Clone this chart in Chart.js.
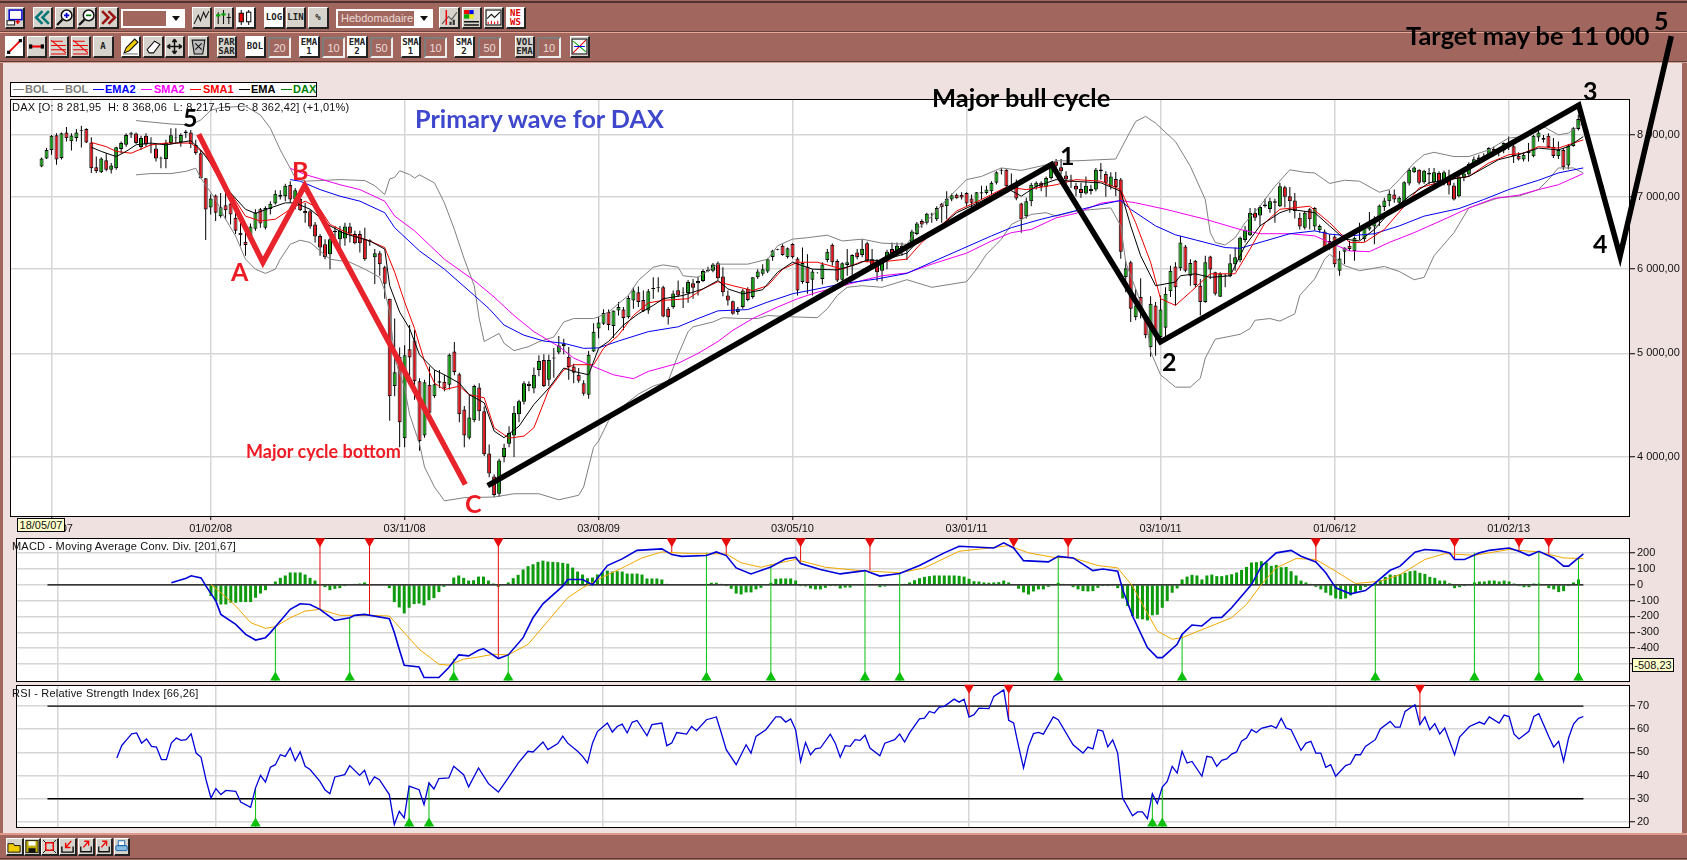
<!DOCTYPE html>
<html><head><meta charset="utf-8"><title>DAX</title>
<script src="https://cdn.jsdelivr.net/npm/chart.js@4/dist/chart.umd.min.js"></script>
<style>
html,body{margin:0;padding:0;width:1687px;height:860px;overflow:hidden;background:#a1675f;font-family:"Liberation Sans",Arial,sans-serif}
#frame{position:absolute;left:3px;top:63px;width:1679px;height:770px;background:#f0e1e1}
.sep{position:absolute;left:0;width:1687px;height:1px}
canvas{position:absolute}
.b{position:absolute;box-sizing:border-box;background:#d6d3cc;border:1px solid #fff;border-right:2px solid #222;border-bottom:2px solid #222;font:bold 9px "DejaVu Sans Mono",monospace;color:#222;text-align:center;line-height:9px;display:flex;align-items:center;justify-content:center;white-space:pre}
.b.w{background:#fff}
.b.n{color:#e00000}
.b svg{display:block}
.i{position:absolute;box-sizing:border-box;height:21px;background:#a1675f;border:2px solid #7d7d7d;border-right-color:#eee;border-bottom-color:#eee;color:#eadcd8;font:11px "Liberation Sans";padding-top:3px;text-align:center}
.d{position:absolute;box-sizing:border-box;background:#fff;height:19px;padding:2px}
.d span{display:block;height:15px;background:#a1675f;color:#eadcd8;font:11px "Liberation Sans";padding-left:3px;line-height:15px;width:calc(100% - 20px);overflow:hidden;white-space:nowrap}
.d:after{content:"";position:absolute;right:5px;top:7px;border:4px solid transparent;border-top:5px solid #111}
.t{position:absolute;white-space:nowrap;font-family:Lato,"Open Sans",sans-serif;font-weight:700;line-height:1;z-index:6}
#legend{position:absolute;left:10px;top:82px;width:307px;height:15px;box-sizing:border-box;background:#fff;border:1px solid #000;font:bold 11px "Liberation Sans";z-index:2}
#legend span{position:absolute;top:0;line-height:13px}
#legend i{position:absolute;top:6px;width:11px;height:1px}
.lab{position:absolute;font:11px "Liberation Sans";color:#111;white-space:nowrap;z-index:5;letter-spacing:.2px}
.tip{position:absolute;box-sizing:border-box;background:#ffffcc;border:1px solid #000;font:11px "Liberation Sans";color:#111;text-align:center;z-index:6}
</style></head><body>
<div class="sep" style="top:1px;height:2px;background:#4e3431"></div>
<div class="sep" style="top:32px;background:#e8a898"></div><div class="sep" style="top:31px;background:#6b4440"></div>
<div class="sep" style="top:61px;background:#5c3c38"></div><div class="sep" style="top:62px;background:#d8a090"></div>
<div class="sep" style="top:833px;height:2px;background:#e09a8c"></div><div class="sep" style="top:858px;background:#5c3c38"></div>
<div id="frame"></div>
<div id="tools"></div>
<div id="legend"></div>
<canvas id="macd" width="1677" height="164" style="left:10px;top:528px"></canvas>
<canvas id="rsi" width="1677" height="163" style="left:10px;top:675px"></canvas>
<canvas id="main" width="1687" height="860" style="left:0;top:0;z-index:4"></canvas>
<div class="lab" style="left:12px;top:101px">DAX [O: 8 281,95&nbsp; H: 8 368,06&nbsp; L: 8 217,15&nbsp; C: 8 362,42] (+1,01%)</div>
<div class="lab" style="left:12px;top:540px">MACD - Moving Average Conv. Div. [201,67]</div>
<div class="lab" style="left:12px;top:687px">RSI - Relative Strength Index [66,26]</div>
<div class="tip" style="left:17px;top:518px;width:48px;height:14px;line-height:12px">18/05/07</div>
<div class="tip" style="left:1632px;top:658px;width:42px;height:14px;line-height:12px">-508,23</div>
<div class="t" style="left:415px;top:106px;font-size:25.2px;color:#3f48cc">Primary wave for DAX</div>
<div class="t" style="left:932px;top:85px;font-size:25.5px;color:#000">Major bull cycle</div>
<div class="t" style="left:1406px;top:23px;font-size:25.4px;color:#000">Target may be 11 000</div>
<div class="t" style="left:246px;top:442px;font-size:18px;color:#ed1c24">Major cycle bottom</div>
<div class="t" style="left:183px;top:105px;font-size:25px;color:#000">5</div>
<div class="t" style="left:231px;top:259px;font-size:25px;color:#ed1c24">A</div>
<div class="t" style="left:292px;top:158px;font-size:25px;color:#ed1c24">B</div>
<div class="t" style="left:465px;top:491px;font-size:25px;color:#ed1c24">C</div>
<div class="t" style="left:1060px;top:143px;font-size:25px;color:#000">1</div>
<div class="t" style="left:1162px;top:349px;font-size:25px;color:#000">2</div>
<div class="t" style="left:1583px;top:78px;font-size:25px;color:#000">3</div>
<div class="t" style="left:1593px;top:231px;font-size:25px;color:#000">4</div>
<div class="t" style="left:1654px;top:8px;font-size:25px;color:#000">5</div>
<script>
// ---------- candle data (weekly DAX) ----------
const opens=[7480,7610,7750,8000,7615,8045,7895,7950,8075,8105,
7875,7465,7385,7580,7425,7450,7765,7835,8010,8030,
7800,7990,7830,7775,7610,7600,7865,7945,7880,8035,
8045,7835,7695,7290,6845,7025,6720,6880,6905,6695,
6485,6360,6415,6540,6820,6555,6825,6905,7035,7015,
7185,6965,6975,6795,6790,6600,6440,6325,6190,6490,
6395,6405,6570,6465,6465,6395,6380,6150,6205,6020,
5625,4660,4965,4165,5045,5140,4710,4190,4675,4560,
4695,4705,4675,5020,4780,4430,4170,4330,4645,4415,
4030,3835,3695,4000,4115,4190,4385,4505,4685,4635,
4825,4930,4725,4945,5010,5080,4965,4860,4775,4690,
4575,5020,5275,5330,5465,5305,5485,5495,5405,5605,
5705,5610,5485,5745,5755,5765,5505,5525,5730,5695,
5695,5815,5815,5845,5970,5975,6070,5900,5665,5595,
5465,5525,5745,5645,5890,5935,5965,6155,6260,6305,
6150,6330,6135,5830,6030,5860,5945,5870,6115,6320,
6100,5860,6050,6040,6215,6180,6340,6125,6050,5975,
6125,6260,6235,6305,6245,6350,6465,6650,6625,6745,
6675,6900,6865,6965,7035,7035,7065,6980,6915,7055,
7065,7090,7220,7410,7425,7190,7155,6905,6720,6940,
7160,7220,7160,7295,7560,7465,7335,7270,7175,7125,
7055,7095,7115,7400,7360,7165,7280,7270,5890,6085,
5405,5645,5410,5070,5545,5180,5285,5715,6030,6005,
6295,5910,6105,5785,5585,6160,5955,5650,5905,5905,
6060,6110,6385,6450,6770,6730,6865,6825,6915,6865,
7150,7015,6950,6695,6555,6820,6570,6520,6500,6370,
6430,5975,6225,6305,6235,6410,6395,6530,6570,6675,
6855,6940,7040,6915,6925,7210,7385,7425,7230,7350,
7230,7375,7220,7295,7180,7015,7295,7350,7505,7590,
7620,7655,7765,7725,7740,7810,7810,7655,7590,7735,
7645,7960,7950,7990,7805,7645,7750,7495,7815,8105];
const highs=[7625,7780,8005,8035,8045,8140,8035,8105,8165,8120,
7965,7640,7630,7695,7535,7805,7890,8035,8060,8045,
7990,8035,7965,7865,7640,7920,8120,8120,8035,8090,
8090,7920,7750,7290,7040,7040,7065,7065,7015,6770,
6625,6625,6615,6820,6840,6865,6940,7105,7105,7205,
7245,7140,7065,6915,6820,6635,6465,6395,6415,6580,
6580,6625,6625,6510,6510,6555,6395,6260,6235,6040,
5625,5390,5065,5090,5315,5260,4740,4725,4860,4825,
4825,4775,5000,5125,4795,4465,4575,4675,4690,4460,
4110,3855,3985,4115,4275,4465,4525,4710,4710,4850,
4980,4990,4985,5060,5190,5160,5070,4890,4845,4720,
5025,5335,5410,5500,5495,5485,5585,5525,5665,5765,
5775,5725,5745,5890,5890,5785,5525,5725,5850,5765,
5855,5870,5900,5995,6025,6075,6095,6020,5725,5605,
5525,5745,5765,5890,5995,6060,6135,6250,6265,6325,
6280,6340,6150,6280,6190,5995,5955,6085,6260,6335,
6125,6085,6260,6190,6260,6395,6360,6260,6125,6125,
6250,6350,6350,6350,6305,6525,6635,6675,6770,6770,
6865,6915,7090,7055,7055,7075,7075,7040,7080,7175,
7175,7245,7400,7450,7435,7365,7270,6915,6990,7220,
7245,7245,7320,7505,7600,7600,7400,7345,7220,7220,
7320,7190,7455,7535,7400,7385,7390,7295,6105,6105,
5745,5880,5430,5655,5585,5665,5765,6040,6085,6440,
6315,6125,6115,5870,6170,6170,5960,5955,5935,6190,
6280,6430,6580,6840,6840,6875,6975,6990,6975,7220,
7175,7155,7065,6770,6795,6840,6855,6600,6530,6465,
6450,6235,6280,6370,6430,6625,6600,6780,6720,6890,
6990,7105,7115,7015,7245,7455,7480,7435,7425,7455,
7455,7400,7415,7425,7220,7345,7400,7545,7640,7670,
7695,7795,7805,7780,7875,7975,7890,7710,7710,7865,
8005,8090,8005,8035,7950,7890,7780,7850,8140,8360];
const lows=[7465,7600,7670,7505,7590,7890,7740,7890,7790,7865,
7375,7375,7375,7400,7365,7425,7695,7805,7950,7850,
7750,7805,7695,7560,7450,7450,7835,7865,7805,7950,
7780,7670,7290,6385,6745,6650,6695,6675,6600,6465,
6305,6170,6395,6510,6555,6530,6745,6890,6965,6940,
6915,6820,6795,6625,6540,6350,6170,6125,5995,6305,
6280,6305,6350,6325,6215,6105,6305,5805,5910,5625,
4325,4560,4085,4085,4740,4525,4055,4170,4385,4545,
4640,4610,4625,4770,4310,4085,4155,4310,4325,4010,
3830,3670,3670,3955,4085,4000,4310,4480,4610,4590,
4760,4650,4660,4745,4990,4990,4725,4690,4695,4565,
4535,5015,5165,5315,5255,5170,5425,5255,5390,5505,
5525,5465,5445,5625,5705,5405,5320,5505,5645,5515,
5575,5625,5665,5830,5955,5955,5860,5655,5545,5435,
5435,5505,5595,5625,5870,5910,5945,6105,6245,6170,
6135,6135,5665,5810,5685,5665,5940,5800,6085,6040,
5830,5835,5910,5910,6125,6150,6085,5995,5840,5840,
5995,6150,6170,6170,6115,6305,6450,6555,6600,6625,
6650,6625,6675,6940,6975,6965,6865,6840,6865,6965,
7040,7040,7195,7350,7115,7115,6955,6485,6685,6865,
7115,7090,7005,7270,7455,7350,7165,7140,7015,6990,
7040,7040,7090,7270,7005,7115,7015,6130,5705,5350,
5370,5390,5165,4965,4975,5130,5180,5645,5545,5975,
5955,5785,5765,5425,5575,5870,5665,5645,5765,5890,
5975,6085,6350,6440,6650,6580,6845,6770,6625,6855,
6845,6770,6685,6530,6530,6530,6510,6485,6250,6250,
6020,5910,6060,6235,6105,6385,6360,6510,6325,6580,
6795,6865,6915,6865,6905,7180,7375,7195,7205,7195,
7180,7205,7180,7040,6950,7000,7245,7320,7480,7535,
7600,7630,7645,7645,7695,7750,7535,7575,7560,7560,
7630,7890,7875,7780,7615,7600,7425,7435,7805,8080];
const closes=[7610,7750,7990,7590,8035,7945,7995,8045,8090,7875,
7450,7405,7610,7425,7495,7795,7865,8005,8035,7865,
7950,7840,7840,7610,7620,7865,8000,7960,8005,8065,
7850,7695,7290,6818,6980,6770,6850,6805,6745,6510,
6450,6315,6570,6770,6615,6840,6900,7050,7005,7175,
6965,7105,6805,6760,6570,6430,6280,6150,6395,6510,
6510,6570,6475,6340,6340,6125,6360,6205,6060,5810,
4560,4800,4310,4980,4955,4710,4140,4700,4400,4680,
4710,4635,4985,4805,4385,4190,4355,4660,4415,4025,
3860,3685,3970,4080,4215,4400,4510,4690,4660,4775,
4920,4660,4930,4955,5085,5105,4855,4795,4715,4585,
4985,5240,5345,5455,5315,5485,5525,5395,5635,5725,
5585,5475,5715,5755,5765,5415,5405,5690,5665,5700,
5830,5760,5845,5970,5985,6055,5880,5705,5605,5445,
5505,5725,5610,5890,5965,5995,6125,6240,6250,6180,
6270,6150,5725,6075,5820,5965,5950,6055,6225,6085,
5850,6070,6085,6180,6150,6265,6105,6040,5955,6085,
6225,6205,6305,6250,6255,6500,6615,6600,6755,6755,
6840,6850,6975,7030,6985,6995,6905,6915,7075,7075,
7115,7220,7385,7425,7165,7155,6980,6675,6940,7190,
7220,7160,7295,7480,7490,7400,7270,7265,7115,7065,
7175,7125,7425,7430,7220,7320,7155,6225,6005,5505,
5545,5505,5200,5565,5240,5495,5685,5975,5765,6350,
5975,6075,5795,5585,6085,5990,5685,5935,5915,6070,
6150,6415,6520,6770,6695,6855,6890,6940,6940,7165,
7005,6940,6795,6570,6770,6675,6840,6580,6280,6280,
6060,6135,6280,6260,6415,6415,6555,6570,6675,6875,
6950,7050,6965,6990,7230,7425,7460,7220,7410,7375,
7385,7245,7385,7180,6965,7320,7365,7520,7595,7625,
7645,7780,7700,7750,7865,7865,7645,7590,7670,7700,
7990,8045,7920,7795,7650,7750,7465,7815,8120,8285];

// ---------- indicator lines on the price panel: [week, value] ----------
const bolUpper=[[19,8255],[26,8195],[30,8180],[32,8265],[34,8440],[36,8490],[41,8515],[44,8355],[46,8120],[48,7750],[50,7450],[51,7295],[53,7245],[56,7255],[60,7270],[65,7255],[67,7175],[69,7040],[70,7280],[71,7305],[72,7410],[74,7350],[75,7295],[76,7345],[79,7218],[81,6915],[83,6530],[85,6125],[87,5785],[88,5390],[89,5130],[92,5220],[93,5110],[95,5030],[98,5075],[100,5128],[103,5180],[105,5350],[107,5390],[111,5390],[112,5410],[114,5465],[116,5565],[118,5665],[120,5850],[123,6020],[125,6050],[128,6020],[129,5910],[132,5890],[136,6060],[142,6060],[146,6125],[148,6305],[151,6395],[154,6415],[158,6450],[161,6370],[165,6395],[169,6340],[174,6325],[176,6530],[179,6720],[182,6965],[186,7270],[189,7320],[193,7455],[197,7415],[202,7505],[204,7570],[208,7570],[216,7600],[218,7920],[220,8240],[222,8330],[224,8210],[228,7890],[231,7480],[234,6965],[235,6485],[236,6350],[238,6315],[240,6415],[242,6625],[245,6865],[248,7165],[251,7425],[254,7385],[256,7375],[259,7210],[262,7260],[265,7245],[269,7075],[271,7115],[273,7270],[276,7535],[278,7670],[280,7710],[284,7640],[287,7640],[291,7750],[295,7950],[298,7975],[302,8150],[305,8005],[307,8035],[310,8210]];
const bolLower=[[19,7345],[22,7365],[26,7365],[29,7400],[31,7450],[32,7295],[35,6965],[37,6675],[39,6440],[41,6125],[43,5995],[45,5940],[47,5995],[48,6125],[50,6325],[52,6380],[54,6350],[56,6235],[58,6125],[62,6085],[65,5995],[68,5890],[69,5725],[70,5465],[71,4950],[73,4640],[74,4385],[76,4115],[77,3915],[79,3750],[81,3640],[85,3665],[91,3670],[95,3696],[100,3696],[104,3648],[108,3684],[109,3750],[110,3915],[111,4085],[112,4140],[114,4325],[116,4430],[120,4580],[123,4660],[126,4710],[128,4985],[130,5240],[131,5295],[135,5350],[137,5400],[141,5390],[144,5390],[146,5425],[151,5410],[156,5400],[158,5505],[160,5665],[162,5765],[165,5785],[169,5765],[174,5860],[179,5765],[186,5835],[188,5995],[190,6190],[193,6395],[195,6600],[199,6745],[202,6770],[204,6720],[208,6795],[215,6840],[217,6580],[218,6085],[220,5745],[222,5425],[223,5020],[225,4775],[228,4650],[231,4650],[233,4740],[234,4950],[236,5155],[241,5210],[243,5275],[244,5370],[247,5390],[249,5360],[252,5445],[253,5665],[256,5870],[258,6125],[259,6190],[262,6040],[265,5975],[270,6030],[273,5965],[276,5860],[278,5890],[280,6170],[284,6485],[287,6840],[293,6990],[297,7015],[301,7115],[303,7270],[305,7455],[308,7455],[310,7375]];
const sma2=[[50,7450],[53,7350],[60,7190],[64,7115],[69,6940],[71,6720],[75,6510],[81,6125],[87,5850],[91,5645],[95,5425],[99,5240],[104,5075],[107,4950],[111,4860],[115,4775],[119,4735],[122,4810],[128,4895],[132,5000],[136,5130],[139,5255],[143,5390],[148,5525],[152,5625],[156,5705],[160,5765],[165,5850],[169,5910],[174,5945],[179,6060],[186,6205],[191,6370],[195,6485],[199,6530],[204,6695],[208,6760],[213,6910],[217,6950],[220,6915],[226,6820],[234,6675],[241,6530],[245,6470],[251,6470],[256,6440],[259,6350],[263,6235],[267,6225],[271,6350],[276,6485],[283,6705],[287,6840],[292,6980],[297,7030],[301,7115],[305,7190],[310,7365]];
const ema2=[[50,7270],[52,7245],[56,7115],[60,7015],[64,6940],[69,6770],[71,6555],[76,6235],[81,5995],[87,5665],[90,5505],[93,5315],[97,5200],[101,5135],[105,5110],[109,5055],[112,5060],[116,5135],[122,5240],[128,5295],[132,5390],[136,5480],[142,5495],[146,5585],[151,5685],[156,5745],[161,5810],[168,5870],[174,5940],[179,6085],[185,6260],[191,6440],[195,6555],[201,6675],[205,6745],[213,6890],[217,6950],[219,6820],[224,6580],[228,6455],[232,6385],[238,6280],[241,6270],[245,6350],[251,6470],[256,6510],[259,6465],[263,6440],[268,6470],[273,6580],[278,6720],[285,6830],[290,6965],[295,7115],[301,7260],[305,7375],[310,7455]];
const ema1=[[10,7795],[12,7725],[15,7640],[17,7725],[19,7835],[22,7865],[25,7835],[30,7905],[32,7750],[35,7425],[38,7065],[41,6820],[43,6760],[46,6840],[49,6915],[51,6915],[54,6820],[58,6580],[61,6470],[66,6370],[69,6260],[70,5785],[72,5465],[74,5275],[76,4985],[79,4825],[81,4775],[84,4690],[86,4575],[89,4495],[91,4230],[93,4170],[96,4275],[99,4480],[102,4640],[105,4845],[107,4810],[110,4775],[112,5055],[114,5130],[117,5315],[120,5445],[123,5545],[125,5625],[129,5665],[133,5745],[136,5850],[138,5745],[141,5685],[145,5735],[148,5955],[151,6085],[155,5995],[160,5985],[164,6060],[166,6115],[169,6105],[174,6205],[176,6350],[180,6530],[184,6770],[189,6940],[194,7140],[197,7015],[200,7165],[204,7270],[207,7245],[213,7220],[217,7090],[219,6580],[221,6170],[224,5785],[228,5830],[229,5910],[232,5935],[235,5890],[239,5910],[242,6305],[245,6580],[249,6770],[251,6820],[256,6770],[259,6580],[262,6395],[265,6370],[268,6530],[271,6770],[275,7015],[279,7220],[283,7270],[287,7320],[293,7590],[297,7670],[301,7780],[305,7750],[307,7805],[310,7975]];
const sma1=[[10,7875],[13,7805],[15,7725],[18,7695],[22,7835],[25,7865],[30,7865],[33,7670],[35,7375],[38,7065],[41,6720],[44,6650],[47,6675],[50,6820],[53,6940],[56,6820],[58,6600],[62,6465],[66,6370],[69,6280],[71,5955],[73,5585],[75,5275],[77,4915],[79,4690],[81,4625],[84,4660],[86,4575],[89,4545],[91,4260],[94,4165],[97,4185],[99,4260],[102,4625],[105,4825],[107,4880],[111,4880],[113,5055],[116,5200],[119,5425],[122,5575],[125,5605],[130,5625],[133,5745],[136,5835],[139,5785],[143,5725],[146,5785],[149,5995],[152,6085],[156,6085],[161,5995],[165,6095],[168,6085],[174,6125],[177,6350],[180,6530],[184,6795],[189,6965],[194,7155],[198,7115],[204,7190],[208,7270],[213,7245],[217,7115],[220,6625],[223,6085],[225,5625],[228,5545],[231,5705],[235,5935],[240,5935],[243,6260],[246,6625],[249,6820],[255,6865],[259,6625],[263,6350],[266,6350],[270,6530],[274,6865],[277,7140],[283,7270],[287,7320],[291,7535],[295,7670],[298,7695],[301,7805],[305,7780],[310,7920]];

// ---------- hand drawn wave lines: [week, value] ----------
const waveRed=[[31.6,8017],[44.5,6083],[52.9,7177],[85.2,3770]];
const waveBlack=[[89.7,3762],[203.1,7510],[225,5127],[309.1,8535],[317.4,6166],[327.7,9900]];

// ---------- axes ----------
const tickWeeks=[2,34,73,112,151,186,225,260,295];
const tickDates=['18/05/07','01/02/08','03/11/08','03/08/09','03/05/10','03/01/11','03/10/11','01/06/12','01/02/13'];
const priceTicks=[4000,5000,6000,7000,8000];
const priceTickLabels=['4 000,00','5 000,00','6 000,00','7 000,00','8 000,00'];
const macdTicks=[-500,-400,-300,-200,-100,0,100,200];
const rsiTicks=[20,30,40,50,60,70];

// ---------- MACD ----------
const macdLine=[[25,13],[28,42],[29,57],[31,44],[32,-8],[34,-103],[35,-187],[38,-250],[40,-313],[42,-349],[44,-334],[45,-302],[47,-229],[49,-155],[51,-120],[53,-124],[55,-155],[58,-225],[61,-208],[62,-193],[64,-187],[69,-214],[70,-302],[71,-407],[72,-508],[75,-519],[76,-586],[79,-586],[81,-523],[83,-443],[85,-449],[87,-414],[88,-403],[91,-466],[93,-443],[96,-334],[98,-208],[100,-120],[104,-8],[105,34],[108,34],[110,0],[113,122],[116,164],[119,218],[124,227],[126,191],[128,180],[133,185],[135,208],[137,185],[139,107],[142,69],[146,113],[149,164],[151,174],[152,134],[156,97],[160,69],[165,90],[168,55],[172,71],[176,122],[181,202],[184,244],[191,233],[193,265],[195,233],[197,153],[202,145],[204,180],[207,170],[211,90],[213,100],[216,86],[217,-29],[219,-197],[222,-397],[224,-460],[225,-460],[228,-376],[229,-313],[231,-254],[233,-260],[235,-208],[237,-206],[239,-145],[243,2],[245,118],[248,202],[251,218],[253,181],[256,145],[258,76],[260,-19],[263,-57],[266,-36],[268,13],[271,92],[273,118],[276,206],[278,223],[281,216],[283,202],[284,160],[286,160],[289,202],[291,218],[295,233],[297,212],[299,185],[301,212],[304,170],[306,118],[307,118],[309,170],[310,195]];
const macdSignal=[[33,2],[35,-50],[38,-134],[41,-239],[44,-275],[46,-265],[49,-208],[52,-166],[55,-155],[59,-193],[65,-193],[69,-197],[72,-302],[75,-407],[79,-502],[81,-508],[84,-470],[87,-456],[90,-439],[93,-443],[97,-376],[101,-229],[105,-82],[108,-19],[112,48],[116,107],[120,170],[124,208],[130,197],[137,195],[140,139],[144,111],[147,134],[151,160],[157,111],[164,90],[172,76],[177,107],[184,212],[189,229],[194,248],[198,202],[203,174],[207,170],[212,122],[216,107],[219,-8],[221,-124],[224,-292],[227,-344],[229,-334],[234,-271],[239,-208],[242,-124],[245,2],[248,107],[252,166],[256,160],[260,86],[264,8],[269,23],[273,65],[278,160],[282,197],[288,187],[295,223],[301,208],[306,170],[310,166]];
const histFirstWeek=33;
const macdHist=[-71,-103,-124,-124,-113,-113,-109,-109,-109,-82,-55,-34,
0,21,44,59,78,78,78,65,44,27,
0,-15,-34,-25,-21,-8,0,6,8,15,0,0,0,0,
-21,-109,-143,-181,-145,-122,-118,-130,-97,-84,-46,-13,
0,46,59,44,27,29,52,52,27,8,-13,0,
15,42,63,97,118,130,145,153,147,145,143,139,134,
109,84,65,42,46,65,80,90,84,86,84,71,71,71,65,
40,40,40,34,6,
0,0,0,0,0,0,0,
6,13,13,6,
-8,-25,-55,-61,-48,-48,-29,-19,
0,
13,38,40,40,40,27,
-8,-10,-23,-29,-29,-19,-8,-8,-23,-17,-17,
0,0,6,0,0,-15,-10,0,0,
6,6,15,29,42,50,55,59,59,59,59,59,57,52,38,23,21,15,13,15,17,27,15,0,
-25,-48,-61,-42,-29,-29,-13,
0,13,6,0,
-15,-29,-40,-42,-40,-19,-8,-8,-6,-21,
-86,-134,-197,-214,-218,-225,-193,-189,-145,
-103,-50,-23,
34,52,63,59,34,59,65,55,55,61,67,78,94,113,141,143,149,141,120,126,111,113,86,59,27,15,6,
-13,-29,-50,-67,-86,-90,-86,-67,-48,-34,-13,
0,
13,29,50,65,61,69,76,86,90,76,69,50,44,27,27,10,
-21,-15,-8,
0,
15,21,21,27,27,21,27,21,8,
-8,-15,-15,
8,8,0,
-21,-29,-46,-40,-8,
15,34];
const macdSellWeeks=[55,65,91,126,137,152,166,195,206,256,284,297,303];
const macdSellValues=[-155,-193,-460,197,187,139,90,244,174,145,160,208,195];
const macdBuyWeeks=[46,61,82,93,133,146,165,172,204,229,268,288,301,309];
const macdBuyValues=[-260,-204,-466,-435,202,128,90,80,187,-313,8,202,212,176];
const macdZero=[[0,0],[310,0]];

// ---------- RSI ----------
const rsiLine=[[14,47.6],[15,53],[16,55.5],[17,58],[18,58.4],[19,54],[20,55.8],[21,52.6],[22,52.3],[23,46.9],[24,46.9],[25,54],[26,56.2],[27,55.2],[28,55.5],[29,58],[30,49.7],[31,47.9],[32,38.2],[33,30.3],[34,34.4],[35,31.8],[36,33.6],[38,33.2],[39,28.6],[41,26.3],[42,34.7],[43,40.1],[44,37.2],[45,43.6],[46,44.7],[47,49],[48,48.3],[49,51.9],[50,46.4],[51,50.2],[52,44],[53,42.6],[55,37.5],[56,33.9],[57,32.2],[58,39.4],[60,40.4],[61,44.3],[63,40.1],[64,42.3],[65,36.1],[66,39.4],[67,38.2],[69,31.8],[70,18.9],[71,24.6],[72,21.7],[73,35.4],[75,33.9],[76,27.5],[77,36.8],[78,34.2],[79,38.7],[81,39],[82,44],[84,40.4],[85,35.1],[87,43.3],[89,36.5],[91,32.9],[93,39],[95,45.4],[97,50.5],[98,50.2],[100,54.5],[101,51.2],[103,53.8],[104,57],[105,54],[107,50.5],[108,48.3],[109,45.4],[110,54],[111,59],[113,62.7],[114,58.8],[115,61.2],[116,62.2],[117,58.4],[118,63],[119,63.8],[121,57.2],[122,62],[124,62.7],[125,52.9],[126,54],[127,58.6],[129,57.9],[130,61.2],[131,59.4],[133,64.1],[135,65.3],[136,58.4],[137,51.2],[139,44.7],[141,53.3],[142,49.7],[143,56.9],[145,59.8],[147,65.3],[148,65.3],[149,63.1],[150,64.4],[151,59.8],[152,46.1],[153,54.3],[154,49],[155,51.5],[156,51.9],[158,57.9],[159,54],[160,47.9],[161,52.9],[162,52.6],[163,55.5],[164,55.2],[165,57.4],[166,51.9],[168,48.6],[169,54],[171,55.5],[172,57.9],[173,54.5],[174,58.4],[176,64.5],[177,64.8],[178,67.7],[179,67],[180,69.6],[181,69.9],[183,73],[184,71.7],[185,73],[186,65.3],[187,66.3],[188,69.1],[190,68.9],[191,74.2],[193,77],[194,63.8],[195,62.7],[196,52.6],[197,43.3],[198,52.6],[199,58.1],[200,58.6],[201,57.9],[203,65.3],[204,64.1],[207,53.3],[209,49.7],[210,52.3],[211,51.5],[212,59.8],[213,59.2],[214,52.4],[215,55.4],[216,49.7],[217,30.3],[219,22.6],[220,24.3],[221,24.3],[222,21.4],[223,32.2],[224,27.9],[225,35],[226,37.5],[227,44],[228,41.1],[229,50.5],[230,45.4],[231,46.1],[233,39.7],[234,48.3],[235,47.9],[236,44],[237,46.6],[238,47.2],[239,49.3],[240,50.2],[241,54.8],[242,56.2],[243,59.8],[244,58.6],[245,60.4],[247,61.5],[248,60.5],[249,64.7],[250,60.5],[251,59.8],[253,50.9],[254,54],[255,54.8],[256,49.7],[257,49.7],[258,43.6],[259,44.7],[260,39.7],[262,44.3],[263,45.1],[264,49],[265,49],[266,52.6],[268,55.5],[269,60.1],[271,63.4],[272,60.9],[273,60.9],[274,67.7],[276,70.6],[277,62],[278,65.3],[279,59.8],[280,62.4],[281,57.9],[282,60.5],[284,49],[285,56.6],[287,61.2],[289,63.1],[290,62.2],[291,65.3],[293,62.7],[294,66.1],[295,65.5],[296,57.9],[297,55.8],[299,59.1],[300,65.5],[301,66.7],[303,56.9],[304,52.3],[305,54.8],[306,46.1],[307,56.2],[308,62.2],[309,64.7],[310,65.5]];
const rsiBuyWeeks=[42,73,77,223,225];
const rsiBuyValues=[34.7,35.4,37.1,32.2,34.7];
const rsiSellWeeks=[186,194,277];
const rsiSellValues=[65.5,63.8,62];
const rsiHigh=[[0,70],[310,70]];
const rsiLow=[[0,30],[310,30]];

// ---------- colours ----------
const UP='#0d9a0d',DOWN='#e0141c',GRID='#d6d6d6',BUY='#0cc00c',SELL='#e80c0c';

const pts=a=>a.map(p=>({x:p[0],y:p[1]}));
const line=(data,color,w,order,extra)=>Object.assign({type:'line',data:pts(data),borderColor:color,borderWidth:w,pointRadius:0,tension:0,order:order,fill:false},extra||{});
const weekMin=-6.35,weekMax=319.4;
const frame={id:'frame',
 beforeDraw(c){const a=c.chartArea,x=c.ctx;x.save();x.fillStyle='#fff';x.fillRect(a.left,a.top,a.right-a.left,a.bottom-a.top);x.restore();},
 beforeDatasetsDraw(c){const a=c.chartArea,x=c.ctx;x.save();x.strokeStyle='#000';x.lineWidth=1;x.strokeRect(a.left+.5,a.top+.5,a.right-a.left-1,a.bottom-a.top);x.restore();}};
const xAxis=(show)=>({type:'linear',min:weekMin,max:weekMax,offset:false,
 grid:{offset:false,color:GRID,lineWidth:1.5,drawTicks:show,tickColor:'#000',tickLength:4,tickWidth:1},border:{display:false},
 afterBuildTicks:s=>{s.ticks=tickWeeks.map(v=>({value:v}));},
 afterFit:s=>{s.height=show?24:0;},
 ticks:{display:show,autoSkip:false,maxRotation:0,minRotation:0,padding:2,color:'#111',font:{family:'Liberation Sans',size:11},callback:v=>tickDates[tickWeeks.indexOf(v)]}});
const yAxis=(type,min,max,ticks,fmt)=>({type:type,position:'right',min:min,max:max,beginAtZero:false,
 grid:{color:GRID,lineWidth:1.5,tickColor:'#000',tickLength:5,tickWidth:1},border:{display:false},
 afterBuildTicks:s=>{s.ticks=ticks.map(v=>({value:v}));},
 afterFit:s=>{s.width=57;},
 ticks:{autoSkip:false,padding:2,color:'#111',font:{family:'Liberation Sans',size:11},callback:fmt}});
const base=(pad)=>({responsive:false,animation:false,devicePixelRatio:1,events:[],layout:{padding:pad},
 plugins:{legend:{display:false},tooltip:{enabled:false},title:{display:false}}});

// ---------- price chart ----------
const priceOpts=base({top:99,left:10,right:0,bottom:320});
priceOpts.scales={x:xAxis(true),y:yAxis('logarithmic',3523,8648,priceTicks,v=>priceTickLabels[priceTicks.indexOf(v)])};
new Chart(document.getElementById('main'),{type:'bar',plugins:[frame],data:{datasets:[
 line(waveRed,'#e8232b',5.5,0,{clip:false}),
 line(waveBlack,'#000',5.5,0,{clip:false}),
 line(ema1,'#000',1,2),
 line(sma1,'#f00000',1,2),
 line(ema2,'#0000f0',1,3),
 line(sma2,'#f000f0',1,3),
 line(bolUpper,'#808080',1,4),
 line(bolLower,'#808080',1,4),
 {type:'bar',order:5,grouped:false,barThickness:4,borderWidth:1,borderColor:'#000',borderSkipped:false,inflateAmount:0,
  backgroundColor:opens.map((o,i)=>closes[i]>=o?UP:DOWN),data:opens.map((o,i)=>({x:i,y:[o,closes[i]]}))},
 {type:'bar',order:6,grouped:false,barThickness:1,backgroundColor:'#000',borderWidth:0,inflateAmount:0,
  data:lows.map((l,i)=>({x:i,y:[l,highs[i]]}))}
]},options:priceOpts});

// ---------- signal helpers ----------
function stems(weeks,values,end,color,order){return {type:'bar',order:order,grouped:false,barThickness:1,backgroundColor:color,borderWidth:0,inflateAmount:0,data:weeks.map((w,i)=>({x:w,y:[values[i],end]}))};}
function marks(weeks,at,color,rot,order){return {type:'line',order:order,showLine:false,data:weeks.map(w=>({x:w,y:at})),pointStyle:'triangle',pointRotation:rot,pointRadius:6,pointBackgroundColor:color,pointBorderColor:color,pointBorderWidth:0,clip:false};}

// ---------- MACD chart ----------
const macdOpts=base({top:10,left:0,right:0,bottom:11});
macdOpts.scales={x:xAxis(false),y:yAxis('linear',-608,296,macdTicks,v=>v===-500?'':String(v))};
new Chart(document.getElementById('macd'),{type:'bar',plugins:[frame],data:{datasets:[
 marks(macdSellWeeks,276,SELL,180,0),marks(macdBuyWeeks,-586,BUY,0,0),
 line(macdLine,'#0000d8',1.6,1),
 line(macdSignal,'#f2a800',1,2),
 stems(macdSellWeeks,macdSellValues,296,SELL,3),
 stems(macdBuyWeeks,macdBuyValues,-608,BUY,3),
 line(macdZero,'#000',1.3,4),
 {type:'bar',order:5,grouped:false,barThickness:3,backgroundColor:'#0d9a0d',borderWidth:0,inflateAmount:0,
  data:macdHist.map((v,i)=>({x:histFirstWeek+i,y:v}))}
]},options:macdOpts});

// ---------- RSI chart ----------
const rsiOpts=base({top:10,left:0,right:0,bottom:11});
rsiOpts.scales={x:xAxis(false),y:yAxis('linear',17.8,79.1,rsiTicks,v=>String(v))};
new Chart(document.getElementById('rsi'),{type:'bar',plugins:[frame],data:{datasets:[
 marks(rsiSellWeeks,77.9,SELL,180,0),marks(rsiBuyWeeks,19.3,BUY,0,0),
 line(rsiLine,'#0000d8',1.3,1),
 stems(rsiSellWeeks,rsiSellValues,79.1,SELL,2),
 stems(rsiBuyWeeks,rsiBuyValues,17.8,BUY,2),
 line(rsiHigh,'#000',1.3,3),line(rsiLow,'#000',1.3,3)
]},options:rsiOpts});

// ---------- legend ----------
const legendItems=[['BOL','#808080',2,14],['BOL','#808080',42,54],['EMA2','#0000ff',82,94],['SMA2','#ff00ff',130,143],['SMA1','#ff0000',179,192],['EMA','#000',228,240],['DAX','#008000',270,282]];
document.getElementById('legend').innerHTML=legendItems.map(l=>`<i style="left:${l[2]}px;background:${l[1]}"></i><span style="left:${l[3]}px;color:${l[1]}">${l[0]}</span>`).join('');

// ---------- toolbars ----------
const S=(b)=>`<svg width="17" height="17" viewBox="0 0 16 16">${b}</svg>`;
const mag=(c,s)=>S(`<circle cx="10" cy="6" r="5" fill="#fff" stroke="#111" stroke-width="1.4"/><path d="M6 10 1 15" stroke="#111" stroke-width="2"/><path d="${s}" stroke="${c}" stroke-width="1.6"/>`);
const ic={
 win:S(`<rect x="3" y="1" width="12" height="9" fill="#fff" stroke="#00c" stroke-width="1.4"/><rect x="1" y="11" width="7" height="4" fill="#fff" stroke="#222"/><path d="M11 10v4M9 12h4" stroke="#e00" stroke-width="1.4"/>`),
 ll:S(`<path d="M8 2 2 8l6 6M14 2 8 8l6 6" fill="none" stroke="#077" stroke-width="2.4"/>`),
 rr:S(`<path d="M2 2l6 6-6 6M8 2l6 6-6 6" fill="none" stroke="#911" stroke-width="2.4"/>`),
 zp:mag('#00c','M7.5 6h5M10 3.5v5'),zm:mag('#070','M7.5 6h5'),
 cl:S(`<path d="M1 14 5 6l2 5 3-8 2 5 3-6" fill="none" stroke="#111"/>`),
 oh:S(`<path d="M3 3v11M8 1v13M13 4v10" stroke="#111"/><path d="M1 6h4M6 5h4" stroke="#0a0" stroke-width="2"/><path d="M11 8h4" stroke="#111"/>`),
 ca:S(`<path d="M4 1v14M11 1v14" stroke="#111"/><rect x="2" y="4" width="4" height="8" fill="#e00" stroke="#111"/><rect x="9" y="3" width="4" height="9" fill="#fff" stroke="#111"/>`),
 g1:S(`<path d="M1 14 7 7l3 3 5-7" fill="none" stroke="#555"/><path d="M5 1v14" stroke="#e00" stroke-width="1.4"/><path d="M9 15v-3M12 15v-5" stroke="#333" stroke-width="2"/>`),
 g2:S(`<rect x="1" y="1" width="5" height="4" fill="#e00"/><rect x="6" y="1" width="4" height="4" fill="#00e"/><rect x="1" y="5" width="5" height="4" fill="#0a0"/><rect x="6" y="5" width="4" height="4" fill="#ee0"/><path d="M1 12h14M1 15h14" stroke="#111" stroke-width="1.5"/>`),
 g3:S(`<rect x="1" y="1" width="14" height="14" fill="#fff" stroke="#111"/><path d="M2 9 6 5l3 3 5-5" fill="none" stroke="#111"/><path d="M3 14v-2M6 14v-3M9 14v-2M12 14v-3" stroke="#e00"/>`),
 ln:S(`<path d="M2 14 14 2" stroke="#e00" stroke-width="1.6"/><rect x="12" y="1" width="3" height="3"/><rect x="1" y="12" width="3" height="3"/>`),
 hl:S(`<path d="M2 8h12" stroke="#e00" stroke-width="2"/><rect x="1" y="6" width="3" height="4"/><rect x="12" y="6" width="3" height="4"/>`),
 fb:S(`<path d="M1 3h11M1 7h14M1 11h14M1 15h14M1 2l14 12" stroke="#e00"/>`),
 pe:S(`<path d="M2 14 4 9 12 1l3 3-8 8z" fill="#ec0" stroke="#111"/><path d="M1 15h14" stroke="#777"/>`),
 er:S(`<path d="M2 11 9 3l5 3-6 8H4z" fill="#fff" stroke="#111"/>`),
 mv:S(`<path d="M8 1v14M1 8h14M8 1 6 4M8 1l2 3M8 15l-2-3M8 15l2-3M1 8l3-2M1 8l3 2M15 8l-3-2M15 8l-3 2" stroke="#111" stroke-width="1.4" fill="none"/>`),
 tr:S(`<path d="M2 2h12l-2 13H4z" fill="#bbb" stroke="#111"/><path d="M5 5l6 6M11 5l-6 6" stroke="#111"/>`),
 co:S(`<rect x="1" y="1" width="14" height="14" fill="#fff" stroke="#111"/><path d="M2 14 14 2" stroke="#e00"/><path d="M2 3l12 10" stroke="#0a0"/><path d="M3 8h10" stroke="#00e"/>`),
 op:S(`<path d="M1 5h6l1 2h6v7H1z" fill="#ec0" stroke="#111"/>`),
 sv:S(`<rect x="1" y="1" width="14" height="14" fill="#ba0" stroke="#111"/><rect x="4" y="2" width="8" height="5" fill="#fff"/><rect x="4" y="10" width="8" height="5" fill="#111"/>`),
 fs:S(`<rect x="4" y="4" width="8" height="8" fill="none" stroke="#e00" stroke-width="1.6"/><path d="M1 1l3 3M15 1l-3 3M1 15l3-3M15 15l-3-3" stroke="#111"/>`),
 ar:S(`<path d="M2 8v6h12V8" fill="none" stroke="#111" stroke-width="1.5"/><path d="M12 2 6 9M6 4v5h5" fill="none" stroke="#e00" stroke-width="1.5"/>`),
 au:S(`<path d="M2 8v6h12V8" fill="none" stroke="#111" stroke-width="1.5"/><path d="M5 9l6-7M6 2h5v5" fill="none" stroke="#e00" stroke-width="1.5"/>`),
 pr:S(`<rect x="4" y="1" width="8" height="6" fill="#fff" stroke="#05a"/><rect x="1" y="7" width="14" height="6" rx="1" fill="#8bd" stroke="#05a"/>`)
};
const row1=[[5,20,'win'],[33,20,'ll'],[55,20,'zp'],[77,20,'zm'],[99,20,'rr'],[192,20,'cl'],[214,20,'oh'],[236,20,'ca',' w'],[264,21,'#LOG',' w'],[286,20,'#LIN'],[308,21,'#%'],[439,21,'g1'],[462,20,'g2'],[484,20,'g3'],[506,20,'#NE\nWS',' w n']];
const row2=[[5,20,'ln',' w'],[27,20,'hl'],[49,20,'fb'],[71,20,'fb'],[93,21,'#A'],[121,20,'pe',' w'],[143,21,'er'],[165,20,'mv'],[188,21,'tr'],[217,20,'#PAR\nSAR'],[245,21,'#BOL',' w'],[299,21,'#EMA\n1',' w'],[347,21,'#EMA\n2',' w'],[401,20,'#SMA\n1',' w'],[454,21,'#SMA\n2',' w'],[515,20,'#VOL\nEMA'],[570,20,'co']];
const row3=[[6,18,'op'],[24,17,'sv'],[41,18,'fs'],[59,18,'ar'],[78,17,'au'],[96,17,'au'],[114,16,'pr']];
const inputs=[[268,23,'20'],[322,23,'10'],[370,23,'50'],[424,23,'10'],[478,23,'50'],[537,24,'10']];
const drops=[[121,64,''],[336,97,'Hebdomadaire']];
let h='';
const put=(r,y,H)=>r.forEach(b=>{const c=b[2];h+=`<div class="b${b[3]||''}" style="left:${b[0]}px;top:${y}px;width:${b[1]}px;height:${H}px">${c[0]==='#'?c.slice(1):ic[c]}</div>`;});
put(row1,7,22);put(row2,36,22);put(row3,838,18);
inputs.forEach(i=>{h+=`<div class="i" style="left:${i[0]}px;top:37px;width:${i[1]}px">${i[2]}</div>`;});
drops.forEach(d=>{h+=`<div class="d" style="left:${d[0]}px;top:9px;width:${d[1]}px"><span>${d[2]}</span></div>`;});
document.getElementById('tools').innerHTML=h;
</script>
</body></html>
